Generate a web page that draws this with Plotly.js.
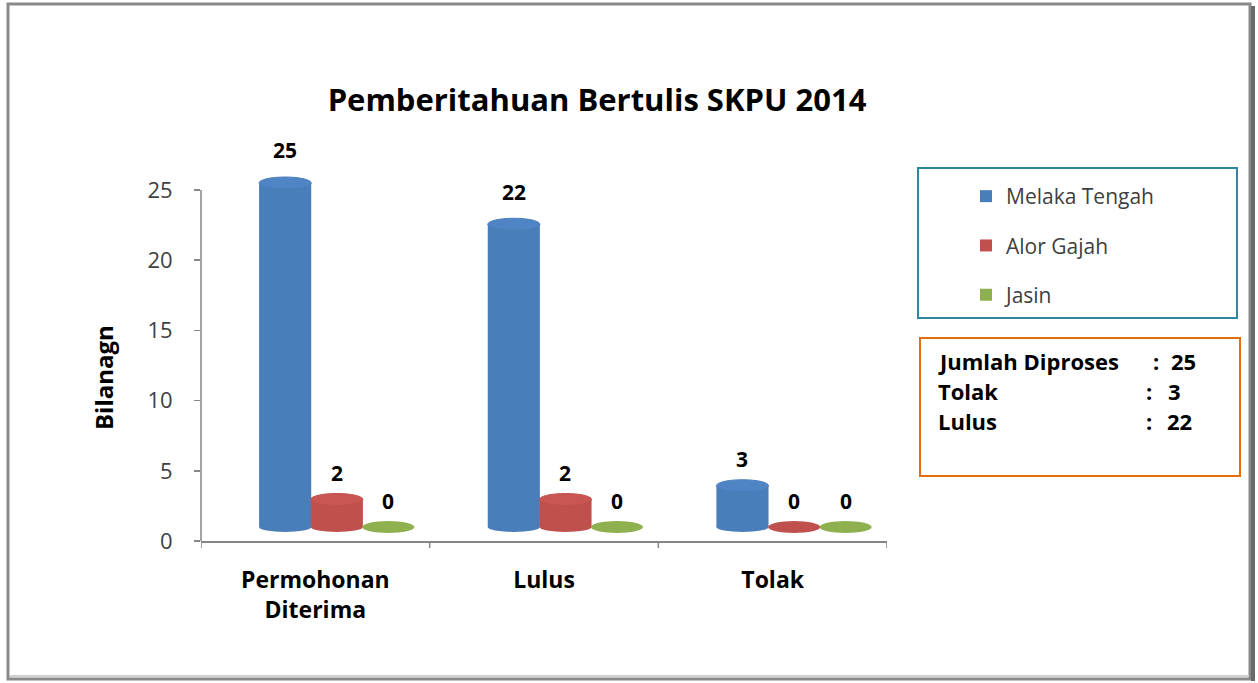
<!DOCTYPE html>
<html>
<head>
<meta charset="utf-8">
<script src="https://cdn.plot.ly/plotly-3.0.1.min.js"></script>
<style>html,body{margin:0;padding:0;background:#fff;}#chart{width:1258px;height:683px;}</style>
</head>
<body>
<div id="chart"></div>
<script>
// ---- data ----
const categories = ["Permohonan<br>Diterima", "Lulus", "Tolak"];
const seriesNames = ["Melaka Tengah", "Alor Gajah", "Jasin"];
const melakaTengah = [25, 22, 3];
const alorGajah = [2, 2, 0];
const jasin = [0, 0, 0];
const yTickVals = [0, 5, 10, 15, 20, 25];
const summaryLabels = ["Jumlah Diproses", "Tolak", "Lulus"];
const summaryValues = [25, 3, 22];
const chartTitle = "Pemberitahuan Bertulis SKPU 2014";
const yTitle = "Bilanagn";

// ---- geometry (pixels) ----
const W = 1258, H = 683;
const L = 201, R = 887, T = 170, B = 541;
const pw = R - L, ph = B - T;
const unitPx = 14.04;           // axis scale: px per unit on the value axis
const yMax = 25;
const px = v => (v - L) / pw;
const py = v => (B - v) / ph;
// 3D floor (raised, perspective) for the cylinders
const floorPx = 527, barUnitPx = 13.76;
const y2Range = [(floorPx - B) / barUnitPx, (floorPx - T) / barUnitPx];

const FONT = "'Open Sans', Lato, sans-serif";
const series = [melakaTengah, alorGajah, jasin];
const bodyColors = ["#4A7EBB", "#C0504D", "#8FB04E"];
const topColors = ["#4F85C4", "#C95653", "#7FA043"];
const barW = 0.228;
const offsets = [-0.246, -0.02, 0.205];

const xIdx = categories.map((c, i) => i);
const traces = series.map((vals, s) => ({
  type: "bar",
  name: seriesNames[s],
  x: xIdx,
  y: vals,
  yaxis: "y2",
  width: barW,
  offset: offsets[s],
  marker: {color: bodyColors[s], line: {width: 0}},
  legendgroup: "g" + s,
  hoverinfo: "y"
}));

const shapes = [];
const annotations = [];
series.forEach((vals, s) => {
  vals.forEach((v, i) => {
    const x0 = i + offsets[s], x1 = x0 + barW, cx = x0 + barW / 2;
    if (v > 0) {
      shapes.push({type: "circle", xref: "x", yref: "y2", ysizemode: "pixel",
        yanchor: 0, x0: x0, x1: x1, y0: -5, y1: 5,
        fillcolor: bodyColors[s], line: {width: 0}, layer: "above"});
    }
    shapes.push({type: "circle", xref: "x", yref: "y2", ysizemode: "pixel",
      yanchor: v, x0: x0, x1: x1, y0: -6, y1: 6,
      fillcolor: v > 0 ? topColors[s] : bodyColors[s],
      line: {width: v > 0 ? 1 : 0, color: bodyColors[s]}, layer: "above"});
    annotations.push({xref: "x", yref: "y", x: cx, y: v, text: "<b>" + v + "</b>",
      showarrow: false, yshift: 40, font: {family: FONT, size: 21, color: "#000"}});
  });
});

// y axis line (only up to the top tick)
shapes.push({type: "line", xref: "paper", yref: "y", x0: 0, x1: 0, y0: 0, y1: yMax,
  line: {color: "#868686", width: 1.5}});
// extra tick marks between categories on x axis
[-0.5, 0.5, 1.5, 2.5].forEach(t => {
  shapes.push({type: "line", xref: "x", yref: "paper", x0: t, x1: t, y0: 0, y1: -7 / ph,
    line: {color: "#868686", width: 1.5}});
});
// outer frame
shapes.push({type: "rect", xref: "paper", yref: "paper", x0: px(8), x1: px(1250), y0: py(679), y1: py(4),
  line: {color: "#8a8a8a", width: 3}, fillcolor: "rgba(0,0,0,0)", layer: "below"});
shapes.push({type: "line", xref: "paper", yref: "paper", x0: px(1253), x1: px(1253), y0: py(681), y1: py(6),
  line: {color: "#6a6a6a", width: 4}});
shapes.push({type: "line", xref: "paper", yref: "paper", x0: px(10), x1: px(1249), y0: py(676), y1: py(676),
  line: {color: "#d0d0d0", width: 2}});
// legend box
shapes.push({type: "rect", xref: "paper", yref: "paper", x0: px(918), x1: px(1237), y0: py(318), y1: py(168),
  line: {color: "#31859C", width: 2}, fillcolor: "rgba(0,0,0,0)"});
// summary box
shapes.push({type: "rect", xref: "paper", yref: "paper", x0: px(920), x1: px(1240), y0: py(476), y1: py(338),
  line: {color: "#E46C0A", width: 2}, fillcolor: "rgba(0,0,0,0)"});

// y axis title as rotated annotation
annotations.push({xref: "paper", yref: "paper", x: px(103), y: py(378), xanchor: "center", yanchor: "middle",
  textangle: -90, text: "<b>" + yTitle + "</b>", showarrow: false, font: {family: FONT, size: 24, color: "#000"}});

const sumFont = {family: FONT, size: 22, color: "#000"};
const lineY = [361, 391, 421];
const colonX = [1151, 1144, 1144];
const valX = [1169, 1166, 1165];
summaryLabels.forEach((lab, k) => {
  annotations.push({xref: "paper", yref: "paper", x: px(936), y: py(lineY[k]), xanchor: "left", yanchor: "middle",
    text: "<b>" + lab + "</b>", showarrow: false, font: sumFont});
  annotations.push({xref: "paper", yref: "paper", x: px(colonX[k]), y: py(lineY[k]), xanchor: "left", yanchor: "middle",
    text: "<b>:</b>", showarrow: false, font: sumFont});
  annotations.push({xref: "paper", yref: "paper", x: px(valX[k]), y: py(lineY[k]), xanchor: "left", yanchor: "middle",
    text: "<b>" + summaryValues[k] + "</b>", showarrow: false, font: sumFont});
});

const layout = {
  width: W, height: H,
  margin: {l: L, r: W - R, t: T, b: H - B, pad: 0},
  paper_bgcolor: "#fff", plot_bgcolor: "#fff",
  barmode: "overlay",
  title: {text: "<b>" + chartTitle + "</b>", x: 597 / W, xanchor: "center", y: 1 - 100 / H, yanchor: "middle",
    font: {family: FONT, size: 31, color: "#000"}},
  xaxis: {
    type: "linear", range: [-0.5, 2.5], tickmode: "array", tickvals: xIdx, ticktext: categories.map(c => "<b>" + c + "</b>"),
    ticks: "", showgrid: false, zeroline: false, showline: true, linecolor: "#868686", linewidth: 1.5,
    tickfont: {family: FONT, size: 23, color: "#000"}, ticklabelstandoff: 18
  },
  yaxis: {
    range: [0, ph / unitPx], tickmode: "array", tickvals: yTickVals,
    ticks: "outside", ticklen: 6, tickcolor: "#868686", tickwidth: 1.5,
    showgrid: false, zeroline: false, showline: false,
    tickfont: {family: FONT, size: 22, color: "#404040"}, ticklabelstandoff: 17
  },
  yaxis2: {overlaying: "y", range: y2Range, visible: false, showgrid: false, zeroline: false},
  showlegend: true,
  legend: {x: px(966), xanchor: "left", y: py(176), yanchor: "top", bgcolor: "rgba(0,0,0,0)", borderwidth: 0,
    traceorder: "grouped", tracegroupgap: 19, itemwidth: 30,
    font: {family: FONT, size: 21, color: "#404040"}},
  shapes: shapes,
  annotations: annotations
};

Plotly.newPlot("chart", traces, layout, {displayModeBar: false, staticPlot: true});
</script>
</body>
</html>
